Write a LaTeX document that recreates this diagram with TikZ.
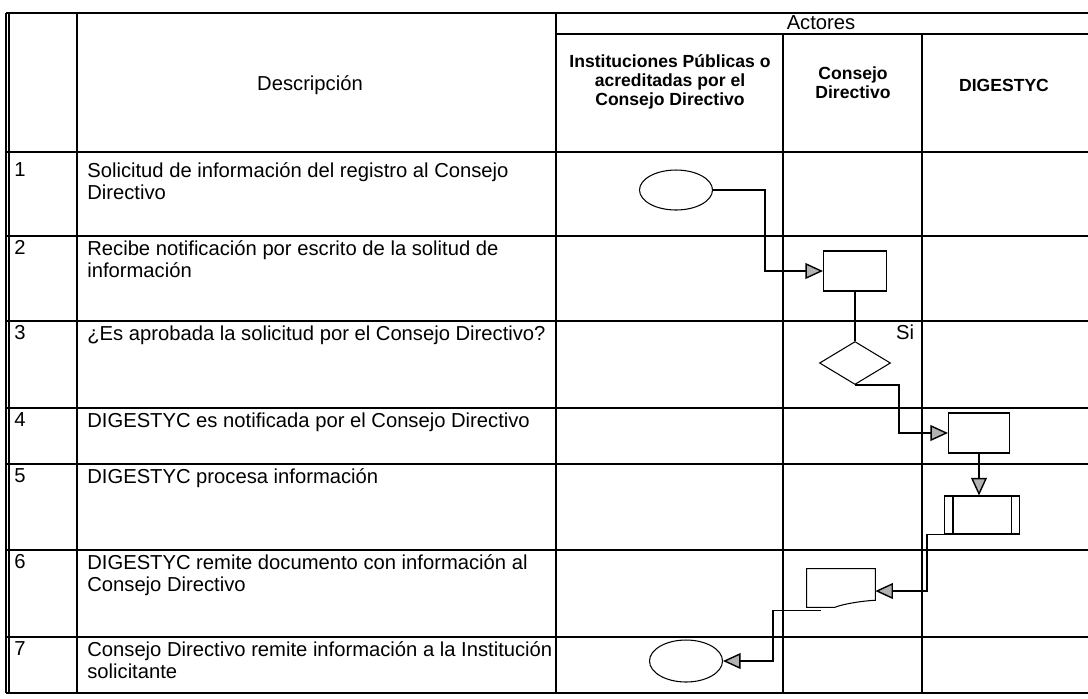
\documentclass[tikz,border=0pt]{standalone}
\usepackage{fontspec}
\setmainfont{Liberation Sans}
\usetikzlibrary{calc,arrows.meta,shapes.geometric}

\tikzset{
	tabline/.style={line width=0.6pt},
	shapeline/.style={line width=0.6pt},
	link/.style={line width=0.8pt},
	flow/.style={line width=0.8pt, -{Triangle[length=10pt,width=9pt,fill=gray!60]}},
	desc/.style={anchor=north west, inner sep=0pt, align=left, font=\fontsize{11.5}{12.8}\selectfont},
	head/.style={align=center, inner sep=0pt, font=\fontsize{10}{11}\selectfont\bfseries},
	title/.style={align=center, inner sep=0pt, font=\fontsize{11.5}{12.8}\selectfont},
	terminal/.style={draw, ellipse, shapeline, inner sep=0pt, minimum width=1.46cm, minimum height=0.8cm},
	proc/.style={draw, rectangle, shapeline, inner sep=0pt, minimum width=1.26cm, minimum height=0.8cm},
	decision/.style={draw, diamond, shapeline, inner sep=0pt, minimum width=1.42cm, minimum height=0.86cm}
}

\begin{document}
\begin{tikzpicture}[x=0.02cm, y=-0.02cm]
	%%%%% START %%%%%
	\useasboundingbox (0,0) rectangle (1088,698);
	
	% table frame
	\draw[tabline] (6,13) -- (6,693);
	\draw[tabline] (9,13) -- (9,693);
	\draw[tabline] (6,13) -- (1088,13);
	\draw[tabline] (556,34) -- (1088,34);
	\draw[tabline] (6,152) -- (1088,152);
	\draw[tabline] (6,236) -- (1088,236);
	\draw[tabline] (6,321) -- (1088,321);
	\draw[tabline] (6,408) -- (1088,408);
	\draw[tabline] (6,464) -- (1088,464);
	\draw[tabline] (6,550) -- (1088,550);
	\draw[tabline] (6,637) -- (1088,637);
	\draw[tabline] (6,693) -- (1088,693);
	\draw[tabline] (77,13) -- (77,693);
	\draw[tabline] (556,13) -- (556,693);
	\draw[tabline] (783,34) -- (783,693);
	\draw[tabline] (922,34) -- (922,693);
	
	% header
	\node[title] (hdesc) at (310,85) {Descripción};
	\node[title] (hact) at (821,23) {Actores};
	\node[head] (hinst) at (670,82) {Instituciones Públicas o\\acreditadas por el\\Consejo Directivo};
	\node[head] (hcons) at (853,83) {Consejo\\Directivo};
	\node[head] (hdig) at (1004,85) {DIGESTYC};
	
	% rows
	\node[desc] (n1) at (14,162) {1};
	\node[desc] (t1) at (87,162) {Solicitud de información del registro al Consejo\\Directivo};
	\node[desc] (n2) at (14,240) {2};
	\node[desc] (t2) at (87,240) {Recibe notificación por escrito de la solitud de\\información};
	\node[desc] (n3) at (14,325) {3};
	\node[desc] (t3) at (87,325) {¿Es aprobada la solicitud por el Consejo Directivo?};
	\node[desc] (n4) at (14,412) {4};
	\node[desc] (t4) at (87,412) {DIGESTYC es notificada por el Consejo Directivo};
	\node[desc] (n5) at (14,468) {5};
	\node[desc] (t5) at (87,468) {DIGESTYC procesa información};
	\node[desc] (n6) at (14,554) {6};
	\node[desc] (t6) at (87,554) {DIGESTYC remite documento con información al\\Consejo Directivo};
	\node[desc] (n7) at (14,641) {7};
	\node[desc] (t7) at (87,641) {Consejo Directivo remite información a la Institución\\solicitante};
	
	% flow shapes
	\node[terminal] (ini1) at (676,190) {};
	\node[proc] (rec2) at (855,271) {};
	\node[decision] (dec3) at (855,363) {};
	\node[title] (si3) at (905,332) {Si};
	\node[proc, minimum width=1.22cm] (not4) at (979,433) {};
	\node[proc, minimum width=1.5cm, minimum height=0.76cm] (pro5) at (982,515) {};
	\draw[shapeline] ($(pro5.north west)+(9,0)$) -- ($(pro5.south west)+(9,0)$);
	\draw[shapeline] ($(pro5.north east)+(-9,0)$) -- ($(pro5.south east)+(-9,0)$);
	\node[inner sep=0pt, minimum width=1.36cm, minimum height=0.76cm] (doc6) at (841,588) {};
	\draw[shapeline] (doc6.south west) -- (doc6.north west) -- (doc6.north east)
		-- ($(doc6.south east)+(0,-7)$) .. controls +(-8,0) and +(10,-4) .. ($(doc6.south west)+(28,0)$)
		-- cycle;
	\node[terminal, minimum height=0.84cm] (fin7) at (686,661) {};
	
	% connectors
	\draw[flow] (ini1.east) -- ++(52,0) |- (rec2.west);
	\draw[link] (rec2.south) -- (dec3.north);
	\draw[flow] (dec3.south) -- ++(44,0) |- (not4.west);
	\draw[flow] (not4.south) -- (not4.south |- pro5.north);
	\draw[flow] (pro5.south) -- ++(-55,0) |- ($(doc6.east)+(0,3)$);
	\draw[flow] ($(doc6.south)+(-20,3)$) -- ++(-48,0) |- (fin7.east);
	
	%%%%% END %%%%%
\end{tikzpicture}
\end{document}
